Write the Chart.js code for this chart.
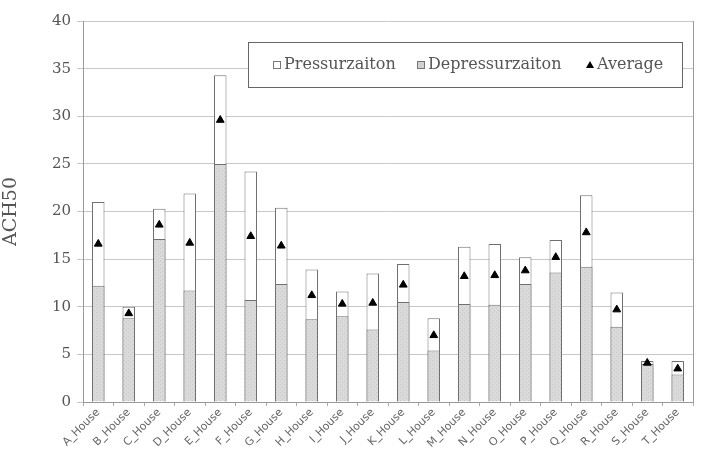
<!DOCTYPE html>
<html>
<head>
<meta charset="utf-8">
<script src="https://cdn.jsdelivr.net/npm/chart.js@4"></script>
<style>
  html, body { margin: 0; padding: 0; background: #fff; }
  #wrap { width: 707px; height: 459px; position: relative; }
</style>
</head>
<body>
<div id="wrap"><canvas id="c" width="707" height="459"></canvas></div>
<script>
const categories = ["A_House","B_House","C_House","D_House","E_House","F_House","G_House","H_House","I_House","J_House","K_House","L_House","M_House","N_House","O_House","P_House","Q_House","R_House","S_House","T_House"];
const pressurization = [21.0, 10.0, 20.3, 21.9, 34.3, 24.2, 20.4, 13.9, 11.6, 13.5, 14.5, 8.8, 16.3, 16.6, 15.2, 17.0, 21.7, 11.5, 4.3, 4.3];
const depressurization = [12.2, 8.8, 17.1, 11.7, 25.0, 10.7, 12.4, 8.7, 9.0, 7.6, 10.5, 5.4, 10.3, 10.2, 12.4, 13.6, 14.2, 7.9, 4.0, 2.9];
const average = [16.6, 9.3, 18.6, 16.7, 29.6, 17.4, 16.4, 11.2, 10.3, 10.4, 12.3, 7.0, 13.2, 13.3, 13.8, 15.2, 17.8, 9.7, 4.1, 3.5];
const yTicks = [0, 5, 10, 15, 20, 25, 30, 35, 40];
const seriesNames = ["Pressurzaiton", "Depressurzaiton", "Average"];

// dotted light-gray fill
function makePattern() {
  const p = document.createElement('canvas');
  p.width = 4; p.height = 4;
  const g = p.getContext('2d');
  g.fillStyle = '#dadada';
  g.fillRect(0, 0, 4, 4);
  g.fillStyle = '#c8c8c8';
  g.fillRect(0, 0, 1, 1);
  g.fillRect(2, 2, 1, 1);
  return g.createPattern(p, 'repeat');
}
const grayFill = makePattern();

const legendBox = {
  id: 'legendBox',
  afterDraw(chart) {
    const ctx = chart.ctx;
    const x0 = 248, y0 = 42, x1 = 682, y1 = 87;
    ctx.save();
    ctx.fillStyle = '#fff';
    ctx.fillRect(x0, y0, x1 - x0, y1 - y0);
    ctx.strokeStyle = '#666';
    ctx.lineWidth = 1;
    ctx.strokeRect(x0 + 0.5, y0 + 0.5, x1 - x0, y1 - y0);
    const cy = 65;
    ctx.font = '16px "DejaVu Serif"';
    ctx.textBaseline = 'middle';
    // item 1
    let x = 273;
    ctx.fillStyle = '#fff';
    ctx.fillRect(x, cy - 4, 8, 8);
    ctx.strokeStyle = '#777';
    ctx.strokeRect(x + 0.5, cy - 3.5, 7, 7);
    ctx.fillStyle = '#555';
    ctx.fillText(seriesNames[0], x + 11, cy);
    // item 2
    x = 417;
    ctx.fillStyle = '#d2d2d2';
    ctx.fillRect(x, cy - 4, 8, 8);
    ctx.strokeStyle = '#777';
    ctx.strokeRect(x + 0.5, cy - 3.5, 7, 7);
    ctx.fillStyle = '#555';
    ctx.fillText(seriesNames[1], x + 11, cy);
    // item 3
    x = 586;
    ctx.fillStyle = '#000';
    ctx.beginPath();
    ctx.moveTo(x + 4, cy - 4);
    ctx.lineTo(x + 8, cy + 3);
    ctx.lineTo(x, cy + 3);
    ctx.closePath();
    ctx.fill();
    ctx.fillStyle = '#555';
    ctx.fillText(seriesNames[2], x + 11, cy);
    ctx.restore();
  }
};

new Chart(document.getElementById('c'), {
  data: {
    labels: categories,
    datasets: [
      {
        type: 'line',
        label: seriesNames[2],
        data: average,
        showLine: false,
        pointStyle: 'triangle',
        pointRadius: 4.5,
        pointBackgroundColor: '#000',
        pointBorderColor: '#000',
        pointBorderWidth: 1,
        order: 0
      },
      {
        type: 'bar',
        label: seriesNames[1],
        data: depressurization,
        grouped: false,
        backgroundColor: grayFill,
        borderColor: '#707070',
        borderWidth: 1,
        barPercentage: 0.41,
        categoryPercentage: 1.0,
        order: 1
      },
      {
        type: 'bar',
        label: seriesNames[0],
        data: pressurization,
        grouped: false,
        backgroundColor: '#ffffff',
        borderColor: '#707070',
        borderWidth: 1,
        barPercentage: 0.41,
        categoryPercentage: 1.0,
        order: 2
      }
    ]
  },
  options: {
    responsive: false,
    animation: false,
    layout: { padding: { left: 0, right: 14, top: 21, bottom: 0 } },
    plugins: {
      legend: { display: false },
      tooltip: { enabled: false }
    },
    scales: {
      x: {
        offset: true,
        grid: {
          display: true,
          offset: true,
          drawOnChartArea: false,
          drawTicks: true,
          tickLength: 4,
          color: '#aaa'
        },
        border: { display: true, color: '#999' },
        ticks: {
          minRotation: 45,
          maxRotation: 45,
          color: '#666',
          font: { family: '"DejaVu Sans"', size: 11 },
          padding: 0
        },
        afterFit(s) { s.height = 57; }
      },
      y: {
        min: 0,
        max: 40,
        afterBuildTicks(s) { s.ticks = yTicks.map(v => ({ value: v })); },
        grid: {
          color: '#c8c8c8',
          tickLength: 6,
          drawTicks: true
        },
        border: { display: true, color: '#999' },
        ticks: {
          color: '#555',
          font: { family: '"DejaVu Serif"', size: 15 },
          padding: 6
        },
        title: {
          display: true,
          text: 'ACH50',
          color: '#555',
          font: { family: '"DejaVu Serif"', size: 19 },
          padding: { top: 0, bottom: 4 }
        },
        afterFit(s) { s.width = 83; }
      }
    }
  },
  plugins: [legendBox, {
    id: 'rightBorder',
    afterDatasetsDraw(chart) {
      const a = chart.chartArea, ctx = chart.ctx;
      ctx.save();
      ctx.strokeStyle = '#999';
      ctx.lineWidth = 1;
      ctx.beginPath();
      ctx.moveTo(Math.round(a.right) + 0.5, a.top);
      ctx.lineTo(Math.round(a.right) + 0.5, a.bottom);
      ctx.stroke();
      ctx.restore();
    }
  }]
});
</script>
</body>
</html>
